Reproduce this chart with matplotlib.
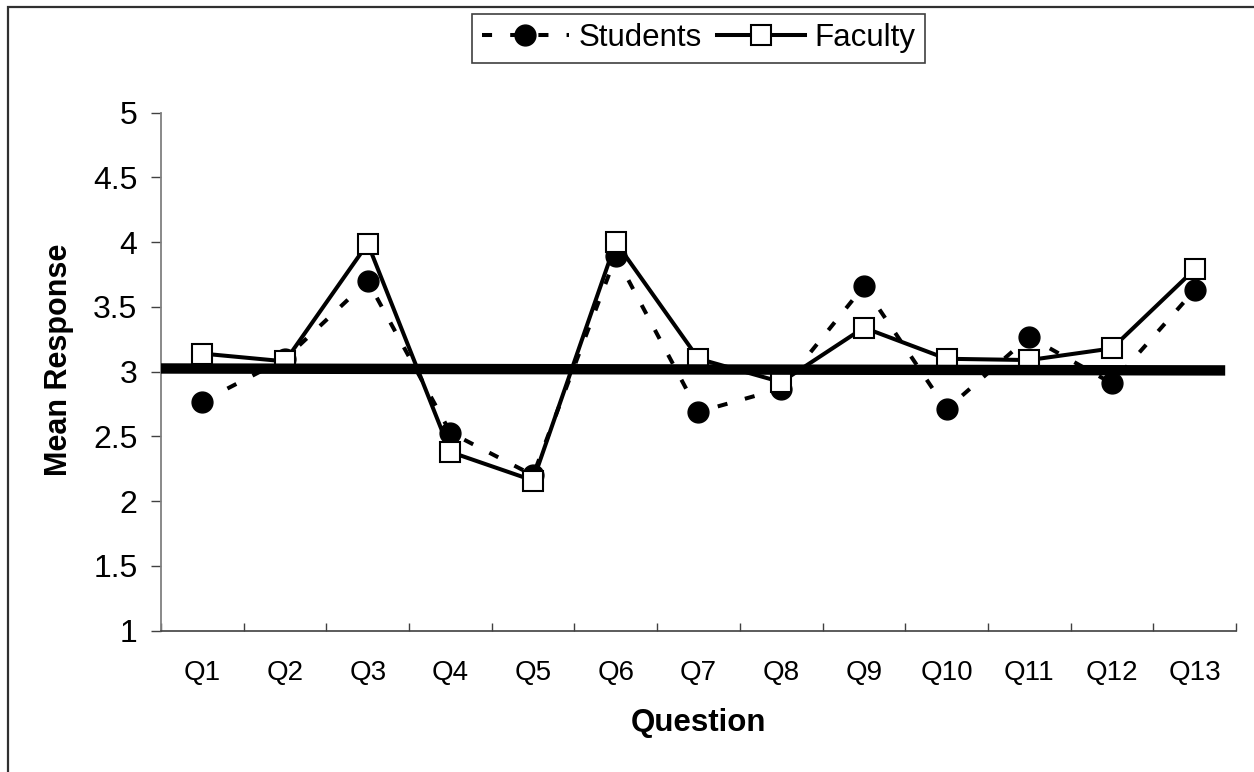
import matplotlib.pyplot as plt
import matplotlib.patches as patches
import numpy as np

plt.rcParams['font.family'] = ['Liberation Sans', 'DejaVu Sans']

# datos
questions = ['Q1', 'Q2', 'Q3', 'Q4', 'Q5', 'Q6', 'Q7', 'Q8', 'Q9', 'Q10', 'Q11', 'Q12', 'Q13']
students = [2.77, 3.10, 3.70, 2.53, 2.20, 3.89, 2.69, 2.87, 3.66, 2.71, 3.27, 2.91, 3.63]
faculty = [3.14, 3.08, 3.99, 2.38, 2.16, 4.00, 3.10, 2.92, 3.34, 3.10, 3.09, 3.18, 3.79]
# linea gruesa de referencia (extremos)
ref_x = [-0.5, 12.37]
ref_y = [3.025, 3.01]

fig = plt.figure(figsize=(12.54, 7.72), dpi=100)
ax = fig.add_axes([0.1284, 0.183, 0.8572, 0.671])

x = np.arange(len(questions))

ax.plot(x, students, color='black', lw=2.9, dashes=(2.5, 4.5),
        marker='o', markersize=15, markerfacecolor='black', markeredgecolor='black',
        label='Students', zorder=3)
ax.plot(x, faculty, color='black', lw=2.9, marker='s', markersize=14,
        markerfacecolor='white', markeredgecolor='black', markeredgewidth=1.5,
        label='Faculty', zorder=4)
ax.plot(ref_x, ref_y, color='black', lw=7.5, solid_capstyle='butt', zorder=5)

ax.set_xlim(-0.5, 12.5)
ax.set_ylim(1, 5)
ax.set_yticks([1, 1.5, 2, 2.5, 3, 3.5, 4, 4.5, 5])
ax.set_yticklabels(['1', '1.5', '2', '2.5', '3', '3.5', '4', '4.5', '5'])
ax.set_xticks(x)
ax.set_xticklabels(questions)
ax.set_xticks(np.arange(-0.5, 13, 1), minor=True)

ax.tick_params(axis='x', which='major', length=0, pad=21, labelsize=20)
ax.tick_params(axis='x', which='minor', direction='in', length=6, width=1, color='#404040')
ax.tick_params(axis='y', direction='out', length=7, width=1, color='#404040', pad=10, labelsize=23)

for s in ['top', 'right']:
    ax.spines[s].set_visible(False)
ax.spines['left'].set_color('#808080')
ax.spines['left'].set_linewidth(1.3)
ax.spines['bottom'].set_color('#404040')
ax.spines['bottom'].set_linewidth(1.2)

fig.text(0.047, 0.534, 'Mean Response', rotation=90, fontsize=22, fontweight='bold',
         ha='center', va='center')
fig.text(0.557, 0.0635, 'Question', fontsize=22.5, fontweight='bold', ha='center', va='center')

leg = fig.legend(loc='upper center', bbox_to_anchor=(0.557, 0.982), ncol=2,
                 fontsize=22.5, handlelength=2.8, handletextpad=0.3, columnspacing=0.5,
                 borderpad=0.3, borderaxespad=0, fancybox=False, framealpha=1)
leg.get_frame().set_edgecolor('#404040')
leg.get_frame().set_linewidth(1.2)

# borde exterior del grafico
border = patches.Rectangle((8 / 1254, -0.1), 1.2, 1.1 - 7 / 772, transform=fig.transFigure,
                           fill=False, edgecolor='#303030', lw=1.6, clip_on=False)
fig.patches.append(border)

fig.savefig('out.png', dpi=100)
